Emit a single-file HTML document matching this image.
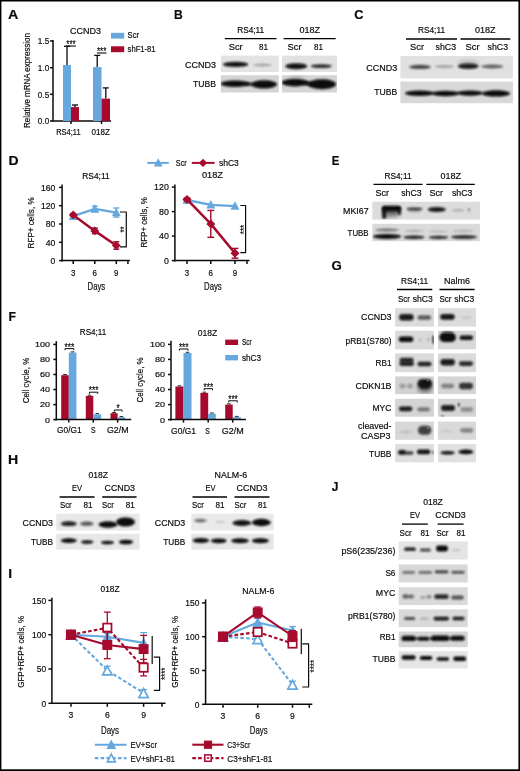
<!DOCTYPE html>
<html><head><meta charset="utf-8"><title>Figure</title>
<style>
html,body{margin:0;padding:0;background:#fff}
svg{display:block}
text{font-family:"Liberation Sans",sans-serif;fill:#0c0a0b;stroke:#0c0a0b;stroke-width:0.18px}
</style></head><body>
<svg width="520" height="771" viewBox="0 0 520 771">
<defs>
<filter id="b1" x="-30%" y="-80%" width="160%" height="260%"><feGaussianBlur stdDeviation="0.9"/></filter>
<filter id="b2" x="-30%" y="-80%" width="160%" height="260%"><feGaussianBlur stdDeviation="1.3"/></filter>
<filter id="b3" x="-40%" y="-80%" width="180%" height="260%"><feGaussianBlur stdDeviation="1.9"/></filter>
<filter id="b4" x="-50%" y="-80%" width="200%" height="260%"><feGaussianBlur stdDeviation="2.5"/></filter>
</defs>
<rect x="0" y="0" width="520" height="771" fill="#fff"/>
<text transform="translate(8.11 18.7) scale(1.103 1)" font-size="13" font-weight="bold" fill="#000" stroke="#000" stroke-width="0.5" stroke-linejoin="round">A</text>
<text transform="translate(174.01 18.7) scale(0.931 1)" font-size="13" font-weight="bold" fill="#000" stroke="#000" stroke-width="0.5" stroke-linejoin="round">B</text>
<text transform="translate(354.26 18.7) scale(0.982 1)" font-size="13" font-weight="bold" fill="#000" stroke="#000" stroke-width="0.5" stroke-linejoin="round">C</text>
<text transform="translate(8.39 164.6) scale(1.075 1)" font-size="13" font-weight="bold" fill="#000" stroke="#000" stroke-width="0.5" stroke-linejoin="round">D</text>
<text transform="translate(331.75 164.6) scale(0.877 1)" font-size="13" font-weight="bold" fill="#000" stroke="#000" stroke-width="0.5" stroke-linejoin="round">E</text>
<text transform="translate(8.60 321.2) scale(0.939 1)" font-size="13" font-weight="bold" fill="#000" stroke="#000" stroke-width="0.5" stroke-linejoin="round">F</text>
<text transform="translate(331.54 269.9) scale(1.017 1)" font-size="13" font-weight="bold" fill="#000" stroke="#000" stroke-width="0.5" stroke-linejoin="round">G</text>
<text transform="translate(8.08 464.0) scale(1.085 1)" font-size="13" font-weight="bold" fill="#000" stroke="#000" stroke-width="0.5" stroke-linejoin="round">H</text>
<text transform="translate(8.31 577.8) scale(1.053 1)" font-size="13" font-weight="bold" fill="#000" stroke="#000" stroke-width="0.5" stroke-linejoin="round">I</text>
<text transform="translate(331.71 490.6) scale(0.927 1)" font-size="13" font-weight="bold" fill="#000" stroke="#000" stroke-width="0.5" stroke-linejoin="round">J</text>
<text x="70.0" y="33.5" font-size="9" textLength="31.0" lengthAdjust="spacingAndGlyphs">CCND3</text>
<line x1="53.0" y1="40.0" x2="53.0" y2="121.6" stroke="#0c0a0b" stroke-width="1.5"/>
<line x1="52.4" y1="121.0" x2="111.0" y2="121.0" stroke="#0c0a0b" stroke-width="1.5"/>
<line x1="50.0" y1="121.0" x2="53.0" y2="121.0" stroke="#0c0a0b" stroke-width="1.5"/>
<text x="37.8" y="124.3" font-size="9.2" textLength="11.4" lengthAdjust="spacingAndGlyphs">0.0</text>
<line x1="50.0" y1="94.3" x2="53.0" y2="94.3" stroke="#0c0a0b" stroke-width="1.5"/>
<text x="37.8" y="97.6" font-size="9.2" textLength="11.4" lengthAdjust="spacingAndGlyphs">0.5</text>
<line x1="50.0" y1="67.7" x2="53.0" y2="67.7" stroke="#0c0a0b" stroke-width="1.5"/>
<text x="37.8" y="71.0" font-size="9.2" textLength="11.4" lengthAdjust="spacingAndGlyphs">1.0</text>
<line x1="50.0" y1="41.0" x2="53.0" y2="41.0" stroke="#0c0a0b" stroke-width="1.5"/>
<text x="37.8" y="44.3" font-size="9.2" textLength="11.4" lengthAdjust="spacingAndGlyphs">1.5</text>
<rect x="63.0" y="65.0" width="8.0" height="56.0" fill="#66a8de"/>
<line x1="67.0" y1="65.0" x2="67.0" y2="46.3" stroke="#0c0a0b" stroke-width="1.3"/>
<line x1="64.0" y1="46.3" x2="70.0" y2="46.3" stroke="#0c0a0b" stroke-width="1.3"/>
<rect x="71.0" y="107.1" width="8.0" height="13.9" fill="#a60a2c"/>
<line x1="75.0" y1="107.1" x2="75.0" y2="105.0" stroke="#0c0a0b" stroke-width="1.3"/>
<line x1="72.0" y1="105.0" x2="78.0" y2="105.0" stroke="#0c0a0b" stroke-width="1.3"/>
<rect x="93.0" y="67.1" width="8.5" height="53.9" fill="#66a8de"/>
<line x1="97.2" y1="67.1" x2="97.2" y2="55.4" stroke="#0c0a0b" stroke-width="1.3"/>
<line x1="94.2" y1="55.4" x2="100.2" y2="55.4" stroke="#0c0a0b" stroke-width="1.3"/>
<rect x="101.5" y="98.6" width="8.5" height="22.4" fill="#a60a2c"/>
<line x1="105.8" y1="98.6" x2="105.8" y2="87.9" stroke="#0c0a0b" stroke-width="1.3"/>
<line x1="102.8" y1="87.9" x2="108.8" y2="87.9" stroke="#0c0a0b" stroke-width="1.3"/>
<line x1="66.0" y1="46.0" x2="76.0" y2="46.0" stroke="#0c0a0b" stroke-width="1.1"/>
<text x="66.3" y="48.0" font-size="10" textLength="9.3" lengthAdjust="spacingAndGlyphs" stroke="#0c0a0b" stroke-width="0.8" stroke-linejoin="round">***</text>
<line x1="97.0" y1="53.0" x2="106.5" y2="53.0" stroke="#0c0a0b" stroke-width="1.1"/>
<text x="97.0" y="55.0" font-size="10" textLength="9.3" lengthAdjust="spacingAndGlyphs" stroke="#0c0a0b" stroke-width="0.8" stroke-linejoin="round">***</text>
<line x1="71.0" y1="121.0" x2="71.0" y2="124.0" stroke="#0c0a0b" stroke-width="1.5"/>
<line x1="101.5" y1="121.0" x2="101.5" y2="124.0" stroke="#0c0a0b" stroke-width="1.5"/>
<text x="56.2" y="135.3" font-size="9.5" textLength="24.4" lengthAdjust="spacingAndGlyphs" stroke="#0c0a0b" stroke-width="0.3">RS4;11</text>
<text x="91.6" y="135.3" font-size="9.5" textLength="18.4" lengthAdjust="spacingAndGlyphs" stroke="#0c0a0b" stroke-width="0.3">018Z</text>
<text transform="translate(26.6 80.5) rotate(-90)" x="-47.5" y="3.2" font-size="9.3" textLength="95.0" lengthAdjust="spacingAndGlyphs" stroke="#0c0a0b" stroke-width="0.3">Relative mRNA expression</text>
<rect x="111.0" y="32.8" width="13.2" height="5.8" fill="#66a8de"/>
<text x="127.6" y="38.3" font-size="8.5" textLength="11.4" lengthAdjust="spacingAndGlyphs">Scr</text>
<rect x="111.0" y="46.3" width="13.2" height="5.9" fill="#a60a2c"/>
<text x="127.6" y="52.0" font-size="8.5" textLength="28.0" lengthAdjust="spacingAndGlyphs">shF1-81</text>
<line x1="224.8" y1="38.6" x2="276.5" y2="38.6" stroke="#000" stroke-width="1.3"/>
<text x="237.2" y="33.0" font-size="9" textLength="27.0" lengthAdjust="spacingAndGlyphs">RS4;11</text>
<line x1="283.6" y1="38.6" x2="335.6" y2="38.6" stroke="#000" stroke-width="1.3"/>
<text x="299.4" y="33.0" font-size="9" textLength="20.5" lengthAdjust="spacingAndGlyphs">018Z</text>
<text x="228.7" y="50.0" font-size="9" textLength="14.0" lengthAdjust="spacingAndGlyphs">Scr</text>
<text x="259.0" y="50.0" font-size="9" textLength="9.0" lengthAdjust="spacingAndGlyphs">81</text>
<text x="287.5" y="50.0" font-size="9" textLength="14.0" lengthAdjust="spacingAndGlyphs">Scr</text>
<text x="314.0" y="50.0" font-size="9" textLength="9.0" lengthAdjust="spacingAndGlyphs">81</text>
<text x="185.0" y="67.5" font-size="9" textLength="31.0" lengthAdjust="spacingAndGlyphs">CCND3</text>
<text x="193.0" y="86.5" font-size="9" textLength="23.0" lengthAdjust="spacingAndGlyphs">TUBB</text>
<clipPath id="c1"><rect x="220.8" y="55.6" width="58.0" height="16.4"/></clipPath>
<rect x="220.8" y="55.6" width="58.0" height="16.4" fill="#e3e3e3"/>
<g clip-path="url(#c1)">
<ellipse cx="235.6" cy="64.4" rx="12.5" ry="2.7" fill="#0a0a0a" opacity="0.97" filter="url(#b1)"/>
<ellipse cx="262.5" cy="65.0" rx="9.5" ry="1.2" fill="#0a0a0a" opacity="0.35" filter="url(#b1)"/>
</g>
<clipPath id="c2"><rect x="282.0" y="55.6" width="55.0" height="16.4"/></clipPath>
<rect x="282.0" y="55.6" width="55.0" height="16.4" fill="#e1e1e1"/>
<g clip-path="url(#c2)">
<ellipse cx="296.3" cy="66.2" rx="11.0" ry="3.0" fill="#0a0a0a" opacity="0.97" filter="url(#b1)"/>
<ellipse cx="321.3" cy="66.2" rx="10.5" ry="1.9" fill="#0a0a0a" opacity="0.85" filter="url(#b1)"/>
</g>
<clipPath id="c3"><rect x="220.8" y="75.2" width="58.0" height="17.3"/></clipPath>
<rect x="220.8" y="75.2" width="58.0" height="17.3" fill="#d5d5d5"/>
<g clip-path="url(#c3)">
<ellipse cx="235.0" cy="83.8" rx="14.5" ry="3.2" fill="#0a0a0a" opacity="1" filter="url(#b1)"/>
<ellipse cx="264.0" cy="84.3" rx="13.0" ry="4.1" fill="#0a0a0a" opacity="1" filter="url(#b1)"/>
<ellipse cx="249.0" cy="84.0" rx="4.0" ry="1.5" fill="#0a0a0a" opacity="0.9" filter="url(#b1)"/>
</g>
<clipPath id="c4"><rect x="282.0" y="75.2" width="55.0" height="17.3"/></clipPath>
<rect x="282.0" y="75.2" width="55.0" height="17.3" fill="#d5d5d5"/>
<g clip-path="url(#c4)">
<ellipse cx="295.0" cy="82.6" rx="13.5" ry="3.8" fill="#0a0a0a" opacity="1" filter="url(#b1)"/>
<ellipse cx="322.0" cy="84.3" rx="14.0" ry="5.0" fill="#0a0a0a" opacity="1" filter="url(#b1)"/>
<ellipse cx="308.0" cy="83.5" rx="4.0" ry="2.0" fill="#0a0a0a" opacity="0.9" filter="url(#b1)"/>
<ellipse cx="297.0" cy="76.0" rx="9.0" ry="0.5" fill="#0a0a0a" opacity="0.3" filter="url(#b1)"/>
</g>
<line x1="406.0" y1="39.0" x2="457.0" y2="39.0" stroke="#000" stroke-width="1.3"/>
<text x="418.0" y="33.2" font-size="9" textLength="27.0" lengthAdjust="spacingAndGlyphs">RS4;11</text>
<line x1="460.5" y1="39.0" x2="510.3" y2="39.0" stroke="#000" stroke-width="1.3"/>
<text x="475.1" y="33.2" font-size="9" textLength="20.5" lengthAdjust="spacingAndGlyphs">018Z</text>
<text x="410.0" y="50.0" font-size="9" textLength="14.0" lengthAdjust="spacingAndGlyphs">Scr</text>
<text x="435.6" y="50.0" font-size="9" textLength="20.5" lengthAdjust="spacingAndGlyphs">shC3</text>
<text x="465.5" y="50.0" font-size="9" textLength="14.0" lengthAdjust="spacingAndGlyphs">Scr</text>
<text x="487.6" y="50.0" font-size="9" textLength="20.5" lengthAdjust="spacingAndGlyphs">shC3</text>
<text x="366.3" y="70.6" font-size="9" textLength="31.0" lengthAdjust="spacingAndGlyphs">CCND3</text>
<text x="374.3" y="95.4" font-size="9" textLength="23.0" lengthAdjust="spacingAndGlyphs">TUBB</text>
<clipPath id="c5"><rect x="400.4" y="56.0" width="112.5" height="22.4"/></clipPath>
<rect x="400.4" y="56.0" width="112.5" height="22.4" fill="#e1e1e1"/>
<g clip-path="url(#c5)">
<ellipse cx="420.0" cy="66.9" rx="11.0" ry="2.1" fill="#0a0a0a" opacity="0.72" filter="url(#b2)"/>
<ellipse cx="444.3" cy="66.6" rx="9.5" ry="1.4" fill="#0a0a0a" opacity="0.32" filter="url(#b2)"/>
<ellipse cx="468.3" cy="66.3" rx="10.5" ry="2.8" fill="#0a0a0a" opacity="0.9" filter="url(#b2)"/>
<ellipse cx="468.3" cy="63.5" rx="10.0" ry="2.5" fill="#0a0a0a" opacity="0.25" filter="url(#b3)"/>
<ellipse cx="492.3" cy="66.5" rx="11.0" ry="1.9" fill="#0a0a0a" opacity="0.6" filter="url(#b2)"/>
</g>
<clipPath id="c6"><rect x="400.4" y="81.5" width="112.5" height="21.7"/></clipPath>
<rect x="400.4" y="81.5" width="112.5" height="21.7" fill="#d8d8d8"/>
<g clip-path="url(#c6)">
<ellipse cx="419.5" cy="93.3" rx="14.5" ry="2.8" fill="#0a0a0a" opacity="1" filter="url(#b1)"/>
<ellipse cx="445.5" cy="93.5" rx="13.5" ry="2.7" fill="#0a0a0a" opacity="1" filter="url(#b1)"/>
<ellipse cx="470.0" cy="93.1" rx="13.0" ry="2.7" fill="#0a0a0a" opacity="1" filter="url(#b1)"/>
<ellipse cx="496.0" cy="93.4" rx="14.0" ry="3.2" fill="#0a0a0a" opacity="1" filter="url(#b1)"/>
</g>
<line x1="62.1" y1="184.4" x2="62.1" y2="261.4" stroke="#0c0a0b" stroke-width="1.5"/>
<line x1="61.4" y1="260.6" x2="129.8" y2="260.6" stroke="#0c0a0b" stroke-width="1.5"/>
<line x1="59.1" y1="260.6" x2="62.1" y2="260.6" stroke="#0c0a0b" stroke-width="1.5"/>
<text x="50.6" y="263.8" font-size="9" textLength="4.8" lengthAdjust="spacingAndGlyphs">0</text>
<line x1="59.1" y1="242.3" x2="62.1" y2="242.3" stroke="#0c0a0b" stroke-width="1.5"/>
<text x="45.8" y="245.5" font-size="9" textLength="9.6" lengthAdjust="spacingAndGlyphs">40</text>
<line x1="59.1" y1="224.0" x2="62.1" y2="224.0" stroke="#0c0a0b" stroke-width="1.5"/>
<text x="45.8" y="227.2" font-size="9" textLength="9.6" lengthAdjust="spacingAndGlyphs">80</text>
<line x1="59.1" y1="205.7" x2="62.1" y2="205.7" stroke="#0c0a0b" stroke-width="1.5"/>
<text x="41.0" y="208.9" font-size="9" textLength="14.4" lengthAdjust="spacingAndGlyphs">120</text>
<line x1="59.1" y1="187.4" x2="62.1" y2="187.4" stroke="#0c0a0b" stroke-width="1.5"/>
<text x="41.0" y="190.6" font-size="9" textLength="14.4" lengthAdjust="spacingAndGlyphs">160</text>
<line x1="73.2" y1="260.6" x2="73.2" y2="264.1" stroke="#0c0a0b" stroke-width="1.5"/>
<text x="71.0" y="276.0" font-size="9" textLength="4.4" lengthAdjust="spacingAndGlyphs" stroke="#0c0a0b" stroke-width="0.3">3</text>
<line x1="94.8" y1="260.6" x2="94.8" y2="264.1" stroke="#0c0a0b" stroke-width="1.5"/>
<text x="92.6" y="276.0" font-size="9" textLength="4.4" lengthAdjust="spacingAndGlyphs" stroke="#0c0a0b" stroke-width="0.3">6</text>
<line x1="116.3" y1="260.6" x2="116.3" y2="264.1" stroke="#0c0a0b" stroke-width="1.5"/>
<text x="114.1" y="276.0" font-size="9" textLength="4.4" lengthAdjust="spacingAndGlyphs" stroke="#0c0a0b" stroke-width="0.3">9</text>
<line x1="127.9" y1="260.6" x2="127.9" y2="264.1" stroke="#0c0a0b" stroke-width="1.5"/>
<text x="82.2" y="179.0" font-size="9" textLength="27.5" lengthAdjust="spacingAndGlyphs">RS4;11</text>
<text transform="translate(30.6 222.9) rotate(-90)" x="-25.5" y="3.2" font-size="9.3" textLength="51.0" lengthAdjust="spacingAndGlyphs" stroke="#0c0a0b" stroke-width="0.3">RFP+ cells, %</text>
<text x="87.6" y="290.3" font-size="10" textLength="17.6" lengthAdjust="spacingAndGlyphs" stroke="#0c0a0b" stroke-width="0.3">Days</text>
<polyline points="73.2,216.2 94.8,208.9 116.3,212.6" fill="none" stroke="#66a8de" stroke-width="2.3" stroke-linejoin="round"/>
<line x1="73.2" y1="213.9" x2="73.2" y2="218.5" stroke="#66a8de" stroke-width="1.4"/>
<line x1="70.2" y1="213.9" x2="76.2" y2="213.9" stroke="#66a8de" stroke-width="1.4"/>
<line x1="70.2" y1="218.5" x2="76.2" y2="218.5" stroke="#66a8de" stroke-width="1.4"/>
<polygon points="73.2,211.4 68.7,220.0 77.7,220.0" fill="#66a8de"/>
<line x1="94.8" y1="206.2" x2="94.8" y2="211.6" stroke="#66a8de" stroke-width="1.4"/>
<line x1="91.8" y1="206.2" x2="97.8" y2="206.2" stroke="#66a8de" stroke-width="1.4"/>
<line x1="91.8" y1="211.6" x2="97.8" y2="211.6" stroke="#66a8de" stroke-width="1.4"/>
<polygon points="94.8,204.1 90.3,212.7 99.3,212.7" fill="#66a8de"/>
<line x1="116.3" y1="208.0" x2="116.3" y2="217.1" stroke="#66a8de" stroke-width="1.4"/>
<line x1="113.3" y1="208.0" x2="119.3" y2="208.0" stroke="#66a8de" stroke-width="1.4"/>
<line x1="113.3" y1="217.1" x2="119.3" y2="217.1" stroke="#66a8de" stroke-width="1.4"/>
<polygon points="116.3,207.8 111.8,216.3 120.8,216.3" fill="#66a8de"/>
<polyline points="73.2,214.9 94.8,230.9 116.3,245.5" fill="none" stroke="#a60a2c" stroke-width="2.5" stroke-linejoin="round"/>
<line x1="73.2" y1="213.5" x2="73.2" y2="216.2" stroke="#a60a2c" stroke-width="1.4"/>
<line x1="70.2" y1="213.5" x2="76.2" y2="213.5" stroke="#a60a2c" stroke-width="1.4"/>
<line x1="70.2" y1="216.2" x2="76.2" y2="216.2" stroke="#a60a2c" stroke-width="1.4"/>
<polygon points="73.2,210.5 77.6,214.9 73.2,219.3 68.8,214.9" fill="#a60a2c"/>
<line x1="94.8" y1="228.1" x2="94.8" y2="233.6" stroke="#a60a2c" stroke-width="1.4"/>
<line x1="91.8" y1="228.1" x2="97.8" y2="228.1" stroke="#a60a2c" stroke-width="1.4"/>
<line x1="91.8" y1="233.6" x2="97.8" y2="233.6" stroke="#a60a2c" stroke-width="1.4"/>
<polygon points="94.8,226.5 99.2,230.9 94.8,235.3 90.4,230.9" fill="#a60a2c"/>
<line x1="116.3" y1="241.8" x2="116.3" y2="249.2" stroke="#a60a2c" stroke-width="1.4"/>
<line x1="113.3" y1="241.8" x2="119.3" y2="241.8" stroke="#a60a2c" stroke-width="1.4"/>
<line x1="113.3" y1="249.2" x2="119.3" y2="249.2" stroke="#a60a2c" stroke-width="1.4"/>
<polygon points="116.3,241.1 120.7,245.5 116.3,249.9 111.9,245.5" fill="#a60a2c"/>
<polyline points="120.0,212.0 126.3,212.0 126.3,246.9 120.0,246.9" fill="none" stroke="#0c0a0b" stroke-width="1.2" stroke-linejoin="round"/>
<text transform="translate(122.6 229.5) rotate(-90)" x="-3.1" y="5.5" font-size="10.5" textLength="6.2" lengthAdjust="spacingAndGlyphs" stroke="#0c0a0b" stroke-width="0.8" stroke-linejoin="round">**</text>
<line x1="174.9" y1="184.4" x2="174.9" y2="261.4" stroke="#0c0a0b" stroke-width="1.5"/>
<line x1="174.2" y1="260.6" x2="249.5" y2="260.6" stroke="#0c0a0b" stroke-width="1.5"/>
<line x1="171.9" y1="260.6" x2="174.9" y2="260.6" stroke="#0c0a0b" stroke-width="1.5"/>
<text x="163.9" y="263.8" font-size="9" textLength="4.9" lengthAdjust="spacingAndGlyphs">0</text>
<line x1="171.9" y1="236.1" x2="174.9" y2="236.1" stroke="#0c0a0b" stroke-width="1.5"/>
<text x="159.0" y="239.3" font-size="9" textLength="9.8" lengthAdjust="spacingAndGlyphs">40</text>
<line x1="171.9" y1="211.6" x2="174.9" y2="211.6" stroke="#0c0a0b" stroke-width="1.5"/>
<text x="159.0" y="214.8" font-size="9" textLength="9.8" lengthAdjust="spacingAndGlyphs">80</text>
<line x1="171.9" y1="187.1" x2="174.9" y2="187.1" stroke="#0c0a0b" stroke-width="1.5"/>
<text x="154.1" y="190.3" font-size="9" textLength="14.7" lengthAdjust="spacingAndGlyphs">120</text>
<line x1="187.0" y1="260.6" x2="187.0" y2="264.1" stroke="#0c0a0b" stroke-width="1.5"/>
<text x="184.8" y="276.0" font-size="9" textLength="4.4" lengthAdjust="spacingAndGlyphs" stroke="#0c0a0b" stroke-width="0.3">3</text>
<line x1="210.8" y1="260.6" x2="210.8" y2="264.1" stroke="#0c0a0b" stroke-width="1.5"/>
<text x="208.6" y="276.0" font-size="9" textLength="4.4" lengthAdjust="spacingAndGlyphs" stroke="#0c0a0b" stroke-width="0.3">6</text>
<line x1="235.0" y1="260.6" x2="235.0" y2="264.1" stroke="#0c0a0b" stroke-width="1.5"/>
<text x="232.8" y="276.0" font-size="9" textLength="4.4" lengthAdjust="spacingAndGlyphs" stroke="#0c0a0b" stroke-width="0.3">9</text>
<line x1="247.0" y1="260.6" x2="247.0" y2="264.1" stroke="#0c0a0b" stroke-width="1.5"/>
<text x="202.0" y="178.0" font-size="9" textLength="21.0" lengthAdjust="spacingAndGlyphs">018Z</text>
<text transform="translate(143.4 222.4) rotate(-90)" x="-25.2" y="3.2" font-size="9.3" textLength="50.5" lengthAdjust="spacingAndGlyphs" stroke="#0c0a0b" stroke-width="0.3">RFP+ cells, %</text>
<text x="204.1" y="290.3" font-size="10" textLength="17.6" lengthAdjust="spacingAndGlyphs" stroke="#0c0a0b" stroke-width="0.3">Days</text>
<polyline points="187.0,200.0 210.8,204.9 235.0,206.1" fill="none" stroke="#66a8de" stroke-width="2.3" stroke-linejoin="round"/>
<polygon points="187.0,195.2 182.5,203.7 191.5,203.7" fill="#66a8de"/>
<polygon points="210.8,200.1 206.3,208.6 215.3,208.6" fill="#66a8de"/>
<polygon points="235.0,201.3 230.5,209.8 239.5,209.8" fill="#66a8de"/>
<polyline points="187.0,199.4 210.8,223.9 235.0,253.3" fill="none" stroke="#a60a2c" stroke-width="2.5" stroke-linejoin="round"/>
<line x1="187.0" y1="198.1" x2="187.0" y2="200.6" stroke="#a60a2c" stroke-width="1.4"/>
<line x1="183.6" y1="198.1" x2="190.4" y2="198.1" stroke="#a60a2c" stroke-width="1.4"/>
<line x1="183.6" y1="200.6" x2="190.4" y2="200.6" stroke="#a60a2c" stroke-width="1.4"/>
<polygon points="187.0,194.9 191.5,199.4 187.0,203.9 182.5,199.4" fill="#a60a2c"/>
<line x1="210.8" y1="210.4" x2="210.8" y2="237.3" stroke="#a60a2c" stroke-width="1.4"/>
<line x1="207.4" y1="210.4" x2="214.2" y2="210.4" stroke="#a60a2c" stroke-width="1.4"/>
<line x1="207.4" y1="237.3" x2="214.2" y2="237.3" stroke="#a60a2c" stroke-width="1.4"/>
<polygon points="210.8,219.4 215.3,223.9 210.8,228.4 206.3,223.9" fill="#a60a2c"/>
<line x1="235.0" y1="248.4" x2="235.0" y2="258.2" stroke="#a60a2c" stroke-width="1.4"/>
<line x1="231.6" y1="248.4" x2="238.4" y2="248.4" stroke="#a60a2c" stroke-width="1.4"/>
<line x1="231.6" y1="258.2" x2="238.4" y2="258.2" stroke="#a60a2c" stroke-width="1.4"/>
<polygon points="235.0,248.8 239.5,253.3 235.0,257.8 230.5,253.3" fill="#a60a2c"/>
<polyline points="240.3,205.5 245.6,205.5 245.6,252.6 240.3,252.6" fill="none" stroke="#0c0a0b" stroke-width="1.2" stroke-linejoin="round"/>
<text transform="translate(242.2 229.5) rotate(-90)" x="-4.7" y="5.5" font-size="10.5" textLength="9.3" lengthAdjust="spacingAndGlyphs" stroke="#0c0a0b" stroke-width="0.8" stroke-linejoin="round">***</text>
<line x1="147.2" y1="162.9" x2="168.8" y2="162.9" stroke="#66a8de" stroke-width="2"/>
<polygon points="158.2,158.2 153.8,166.6 162.6,166.6" fill="#66a8de"/>
<text x="175.8" y="166.0" font-size="9" textLength="11.0" lengthAdjust="spacingAndGlyphs" stroke="#0c0a0b" stroke-width="0.3">Scr</text>
<line x1="191.8" y1="162.9" x2="214.6" y2="162.9" stroke="#a60a2c" stroke-width="2"/>
<polygon points="203.0,158.7 207.2,162.9 203.0,167.1 198.8,162.9" fill="#a60a2c"/>
<text x="218.9" y="166.0" font-size="9" textLength="20.0" lengthAdjust="spacingAndGlyphs">shC3</text>
<line x1="373.5" y1="184.3" x2="422.5" y2="184.3" stroke="#000" stroke-width="1.3"/>
<text x="384.5" y="178.8" font-size="9" textLength="27.0" lengthAdjust="spacingAndGlyphs">RS4;11</text>
<line x1="426.4" y1="184.3" x2="474.8" y2="184.3" stroke="#000" stroke-width="1.3"/>
<text x="440.4" y="178.8" font-size="9" textLength="20.5" lengthAdjust="spacingAndGlyphs">018Z</text>
<text x="375.6" y="196.2" font-size="9" textLength="13.5" lengthAdjust="spacingAndGlyphs">Scr</text>
<text x="401.2" y="196.2" font-size="9" textLength="20.5" lengthAdjust="spacingAndGlyphs">shC3</text>
<text x="429.4" y="196.2" font-size="9" textLength="13.5" lengthAdjust="spacingAndGlyphs">Scr</text>
<text x="451.9" y="196.2" font-size="9" textLength="20.5" lengthAdjust="spacingAndGlyphs">shC3</text>
<text x="343.1" y="213.7" font-size="9" textLength="25.5" lengthAdjust="spacingAndGlyphs">MKI67</text>
<text x="347.6" y="235.6" font-size="9" textLength="21.0" lengthAdjust="spacingAndGlyphs" stroke="#0c0a0b" stroke-width="0.3">TUBB</text>
<clipPath id="c7"><rect x="372.3" y="201.7" width="107.6" height="17.9"/></clipPath>
<rect x="372.3" y="201.7" width="107.6" height="17.9" fill="#dcdcdc"/>
<g clip-path="url(#c7)">
<rect x="382.0" y="205.8" width="19.0" height="5.6" rx="2.8" fill="#0a0a0a" opacity="1" filter="url(#b1)"/>
<rect x="382.0" y="207.0" width="4.4" height="12.0" rx="2.2" fill="#0a0a0a" opacity="0.9" filter="url(#b2)"/>
<rect x="397.6" y="207.0" width="3.4" height="8.0" rx="1.7" fill="#0a0a0a" opacity="0.85" filter="url(#b2)"/>
<rect x="384.0" y="208.5" width="15.0" height="8.0" rx="4.0" fill="#0a0a0a" opacity="0.55" filter="url(#b3)"/>
<ellipse cx="414.5" cy="209.0" rx="8.0" ry="1.6" fill="#0a0a0a" opacity="0.8" filter="url(#b1)"/>
<ellipse cx="414.5" cy="211.5" rx="7.0" ry="1.5" fill="#0a0a0a" opacity="0.15" filter="url(#b2)"/>
<ellipse cx="436.8" cy="209.4" rx="9.0" ry="2.5" fill="#0a0a0a" opacity="0.95" filter="url(#b1)"/>
<ellipse cx="458.0" cy="210.3" rx="6.0" ry="1.0" fill="#0a0a0a" opacity="0.25" filter="url(#b2)"/>
<ellipse cx="469.0" cy="209.8" rx="1.2" ry="1.2" fill="#0a0a0a" opacity="0.55" filter="url(#b1)"/>
</g>
<clipPath id="c8"><rect x="372.3" y="223.8" width="107.6" height="17.4"/></clipPath>
<rect x="372.3" y="223.8" width="107.6" height="17.4" fill="#dadada"/>
<g clip-path="url(#c8)">
<ellipse cx="387.0" cy="230.0" rx="12.0" ry="1.5" fill="#0a0a0a" opacity="0.5" filter="url(#b2)"/>
<ellipse cx="414.0" cy="231.0" rx="10.0" ry="1.2" fill="#0a0a0a" opacity="0.22" filter="url(#b2)"/>
<ellipse cx="438.0" cy="231.5" rx="10.0" ry="1.2" fill="#0a0a0a" opacity="0.15" filter="url(#b2)"/>
<ellipse cx="463.0" cy="231.0" rx="11.0" ry="1.2" fill="#0a0a0a" opacity="0.2" filter="url(#b2)"/>
<ellipse cx="387.0" cy="236.5" rx="14.0" ry="2.4" fill="#0a0a0a" opacity="1" filter="url(#b1)"/>
<ellipse cx="414.0" cy="237.3" rx="10.5" ry="1.7" fill="#0a0a0a" opacity="0.92" filter="url(#b1)"/>
<ellipse cx="438.5" cy="237.3" rx="10.0" ry="1.6" fill="#0a0a0a" opacity="0.88" filter="url(#b1)"/>
<ellipse cx="464.0" cy="237.0" rx="13.0" ry="1.8" fill="#0a0a0a" opacity="0.92" filter="url(#b1)"/>
</g>
<line x1="397.0" y1="289.5" x2="432.3" y2="289.5" stroke="#000" stroke-width="1.3"/>
<text x="401.1" y="284.4" font-size="9" textLength="27.0" lengthAdjust="spacingAndGlyphs">RS4;11</text>
<line x1="439.5" y1="289.5" x2="474.6" y2="289.5" stroke="#000" stroke-width="1.3"/>
<text x="444.1" y="284.4" font-size="9" textLength="26.0" lengthAdjust="spacingAndGlyphs">Nalm6</text>
<text x="398.0" y="302.4" font-size="9" textLength="12.0" lengthAdjust="spacingAndGlyphs">Scr</text>
<text x="412.8" y="302.4" font-size="9" textLength="20.0" lengthAdjust="spacingAndGlyphs">shC3</text>
<text x="439.5" y="302.4" font-size="9" textLength="12.0" lengthAdjust="spacingAndGlyphs">Scr</text>
<text x="454.3" y="302.4" font-size="9" textLength="20.0" lengthAdjust="spacingAndGlyphs">shC3</text>
<text x="361.0" y="320.4" font-size="9" textLength="30.5" lengthAdjust="spacingAndGlyphs">CCND3</text>
<text x="345.5" y="343.6" font-size="9" textLength="46.0" lengthAdjust="spacingAndGlyphs">pRB1(S780)</text>
<text x="375.5" y="365.5" font-size="9" textLength="16.0" lengthAdjust="spacingAndGlyphs">RB1</text>
<text x="355.5" y="388.5" font-size="9" textLength="36.0" lengthAdjust="spacingAndGlyphs">CDKN1B</text>
<text x="372.5" y="410.8" font-size="9" textLength="19.0" lengthAdjust="spacingAndGlyphs">MYC</text>
<text x="358.0" y="428.7" font-size="9" textLength="33.5" lengthAdjust="spacingAndGlyphs">cleaved-</text>
<text x="361.0" y="438.5" font-size="9" textLength="29.5" lengthAdjust="spacingAndGlyphs">CASP3</text>
<text x="369.0" y="456.5" font-size="9" textLength="22.5" lengthAdjust="spacingAndGlyphs">TUBB</text>
<clipPath id="c9"><rect x="395.1" y="308.2" width="38.8" height="18.4"/></clipPath>
<rect x="395.1" y="308.2" width="38.8" height="18.4" fill="#dbdbdb"/>
<g clip-path="url(#c9)">
<rect x="399.1" y="314.1" width="14.5" height="6.4" rx="3.2" fill="#0a0a0a" opacity="0.93" filter="url(#b2)"/>
<rect x="417.6" y="315.2" width="13.5" height="4.6" rx="2.3" fill="#0a0a0a" opacity="0.62" filter="url(#b2)"/>
</g>
<clipPath id="c10"><rect x="437.9" y="308.2" width="38.1" height="18.4"/></clipPath>
<rect x="437.9" y="308.2" width="38.1" height="18.4" fill="#dcdcdc"/>
<g clip-path="url(#c10)">
<rect x="440.2" y="313.9" width="14.5" height="5.8" rx="2.9" fill="#0a0a0a" opacity="0.95" filter="url(#b2)"/>
<ellipse cx="466.0" cy="317.6" rx="5.5" ry="1.1" fill="#0a0a0a" opacity="0.12" filter="url(#b2)"/>
</g>
<clipPath id="c11"><rect x="395.1" y="330.7" width="38.8" height="18.7"/></clipPath>
<rect x="395.1" y="330.7" width="38.8" height="18.7" fill="#dadada"/>
<g clip-path="url(#c11)">
<rect x="398.8" y="336.5" width="14.5" height="5.6" rx="2.8" fill="#0a0a0a" opacity="1" filter="url(#b1)"/>
<ellipse cx="420.3" cy="340.0" rx="1.5" ry="1.5" fill="#0a0a0a" opacity="0.2" filter="url(#b2)"/>
<ellipse cx="428.4" cy="339.5" rx="1.5" ry="1.5" fill="#0a0a0a" opacity="0.22" filter="url(#b2)"/>
<rect x="432.5" y="335.4" width="2.2" height="8.5" rx="1.1" fill="#0a0a0a" opacity="0.85" filter="url(#b1)"/>
</g>
<clipPath id="c12"><rect x="437.9" y="330.7" width="38.1" height="18.7"/></clipPath>
<rect x="437.9" y="330.7" width="38.1" height="18.7" fill="#d8d8d8"/>
<g clip-path="url(#c12)">
<rect x="439.4" y="332.5" width="16.5" height="9.6" rx="4.8" fill="#0a0a0a" opacity="1" filter="url(#b1)"/>
<ellipse cx="447.5" cy="331.3" rx="6.0" ry="0.7" fill="#0a0a0a" opacity="0.7" filter="url(#b1)"/>
<rect x="459.6" y="335.5" width="13.5" height="4.6" rx="2.3" fill="#0a0a0a" opacity="0.97" filter="url(#b1)"/>
</g>
<clipPath id="c13"><rect x="395.1" y="353.4" width="38.8" height="18.8"/></clipPath>
<rect x="395.1" y="353.4" width="38.8" height="18.8" fill="#dadada"/>
<g clip-path="url(#c13)">
<rect x="399.6" y="357.7" width="14.0" height="4.2" rx="2.1" fill="#0a0a0a" opacity="0.8" filter="url(#b2)"/>
<rect x="399.4" y="361.7" width="14.5" height="4.2" rx="2.1" fill="#0a0a0a" opacity="0.88" filter="url(#b2)"/>
<rect x="400.1" y="359.8" width="13.0" height="4.0" rx="2.0" fill="#0a0a0a" opacity="0.5" filter="url(#b2)"/>
<rect x="417.5" y="361.7" width="14.0" height="4.6" rx="2.3" fill="#0a0a0a" opacity="0.9" filter="url(#b2)"/>
</g>
<clipPath id="c14"><rect x="437.9" y="353.4" width="38.1" height="18.8"/></clipPath>
<rect x="437.9" y="353.4" width="38.1" height="18.8" fill="#dadada"/>
<g clip-path="url(#c14)">
<rect x="440.4" y="359.0" width="14.5" height="6.4" rx="3.2" fill="#0a0a0a" opacity="0.92" filter="url(#b2)"/>
<rect x="459.0" y="361.3" width="14.0" height="4.6" rx="2.3" fill="#0a0a0a" opacity="0.85" filter="url(#b2)"/>
</g>
<clipPath id="c15"><rect x="395.1" y="376.4" width="38.8" height="17.7"/></clipPath>
<rect x="395.1" y="376.4" width="38.8" height="17.7" fill="#d3d3d3"/>
<g clip-path="url(#c15)">
<ellipse cx="402.5" cy="386.0" rx="3.0" ry="2.5" fill="#0a0a0a" opacity="0.28" filter="url(#b2)"/>
<ellipse cx="410.0" cy="386.0" rx="3.0" ry="2.5" fill="#0a0a0a" opacity="0.28" filter="url(#b2)"/>
<rect x="417.6" y="378.9" width="14.5" height="9.5" rx="4.8" fill="#0a0a0a" opacity="0.95" filter="url(#b2)"/>
<rect x="417.9" y="383.0" width="14.0" height="9.0" rx="4.5" fill="#0a0a0a" opacity="0.6" filter="url(#b3)"/>
<circle cx="427.6" cy="380.6" r="0.8" fill="#ccc" opacity="0.6"/>
</g>
<clipPath id="c16"><rect x="437.9" y="376.4" width="38.1" height="17.7"/></clipPath>
<rect x="437.9" y="376.4" width="38.1" height="17.7" fill="#d5d5d5"/>
<g clip-path="url(#c16)">
<rect x="441.1" y="383.7" width="13.0" height="4.6" rx="2.3" fill="#0a0a0a" opacity="0.42" filter="url(#b2)"/>
<rect x="459.0" y="382.8" width="14.0" height="6.4" rx="3.2" fill="#0a0a0a" opacity="0.8" filter="url(#b2)"/>
</g>
<clipPath id="c17"><rect x="395.1" y="398.8" width="38.8" height="17.9"/></clipPath>
<rect x="395.1" y="398.8" width="38.8" height="17.9" fill="#d4d4d4"/>
<g clip-path="url(#c17)">
<rect x="398.9" y="406.4" width="13.5" height="4.8" rx="2.4" fill="#0a0a0a" opacity="0.93" filter="url(#b2)"/>
<rect x="417.4" y="407.4" width="12.5" height="3.8" rx="1.9" fill="#0a0a0a" opacity="0.5" filter="url(#b2)"/>
</g>
<clipPath id="c18"><rect x="437.9" y="398.8" width="38.1" height="17.9"/></clipPath>
<rect x="437.9" y="398.8" width="38.1" height="17.9" fill="#d4d4d4"/>
<g clip-path="url(#c18)">
<rect x="441.0" y="405.0" width="14.0" height="6.0" rx="3.0" fill="#0a0a0a" opacity="0.9" filter="url(#b2)"/>
<rect x="460.6" y="407.3" width="12.5" height="4.4" rx="2.2" fill="#0a0a0a" opacity="0.36" filter="url(#b2)"/>
<ellipse cx="458.7" cy="404.8" rx="1.0" ry="1.7" fill="#0a0a0a" opacity="0.95" filter="url(#b1)"/>
<ellipse cx="442.6" cy="416.3" rx="1.3" ry="0.9" fill="#0a0a0a" opacity="0.9" filter="url(#b1)"/>
</g>
<clipPath id="c19"><rect x="395.1" y="421.6" width="38.8" height="18.2"/></clipPath>
<rect x="395.1" y="421.6" width="38.8" height="18.2" fill="#d7d7d7"/>
<g clip-path="url(#c19)">
<ellipse cx="406.0" cy="432.0" rx="6.0" ry="1.5" fill="#0a0a0a" opacity="0.12" filter="url(#b2)"/>
<rect x="417.9" y="425.8" width="13.5" height="9.0" rx="4.5" fill="#0a0a0a" opacity="0.75" filter="url(#b2)"/>
<circle cx="427.6" cy="428.2" r="0.8" fill="#ddd" opacity="0.6"/>
</g>
<clipPath id="c20"><rect x="437.9" y="421.6" width="38.1" height="18.2"/></clipPath>
<rect x="437.9" y="421.6" width="38.1" height="18.2" fill="#d9d9d9"/>
<g clip-path="url(#c20)">
<ellipse cx="446.0" cy="431.0" rx="5.5" ry="1.5" fill="#0a0a0a" opacity="0.08" filter="url(#b2)"/>
<rect x="460.3" y="427.9" width="13.0" height="4.8" rx="2.4" fill="#0a0a0a" opacity="0.4" filter="url(#b2)"/>
</g>
<clipPath id="c21"><rect x="395.1" y="444.0" width="38.8" height="18.3"/></clipPath>
<rect x="395.1" y="444.0" width="38.8" height="18.3" fill="#dfdfdf"/>
<g clip-path="url(#c21)">
<rect x="398.0" y="450.0" width="8.0" height="4.8" rx="2.4" fill="#0a0a0a" opacity="0.97" filter="url(#b2)"/>
<rect x="404.5" y="451.2" width="9.0" height="3.6" rx="1.8" fill="#0a0a0a" opacity="0.75" filter="url(#b2)"/>
<rect x="416.9" y="449.5" width="13.5" height="4.8" rx="2.4" fill="#0a0a0a" opacity="0.96" filter="url(#b2)"/>
<ellipse cx="433.2" cy="452.3" rx="0.8" ry="1.7" fill="#0a0a0a" opacity="0.85" filter="url(#b1)"/>
</g>
<clipPath id="c22"><rect x="437.9" y="444.0" width="38.1" height="18.3"/></clipPath>
<rect x="437.9" y="444.0" width="38.1" height="18.3" fill="#e0e0e0"/>
<g clip-path="url(#c22)">
<ellipse cx="447.6" cy="452.7" rx="7.2" ry="1.7" fill="#0a0a0a" opacity="1" filter="url(#b1)"/>
<ellipse cx="465.9" cy="451.9" rx="7.5" ry="2.3" fill="#0a0a0a" opacity="1" filter="url(#b1)"/>
</g>
<rect x="61.2" y="375.2" width="7.6" height="44.4" fill="#a60a2c"/>
<line x1="63.2" y1="374.5" x2="66.8" y2="374.5" stroke="#0c0a0b" stroke-width="0.9"/>
<rect x="68.8" y="352.6" width="7.6" height="67.0" fill="#66a8de"/>
<line x1="70.8" y1="351.9" x2="74.4" y2="351.9" stroke="#0c0a0b" stroke-width="0.9"/>
<rect x="85.8" y="395.9" width="7.5" height="23.7" fill="#a60a2c"/>
<line x1="87.8" y1="395.2" x2="91.3" y2="395.2" stroke="#0c0a0b" stroke-width="0.9"/>
<rect x="93.3" y="414.3" width="7.9" height="5.3" fill="#66a8de"/>
<line x1="95.5" y1="413.6" x2="99.0" y2="413.6" stroke="#0c0a0b" stroke-width="0.9"/>
<rect x="110.5" y="413.2" width="7.1" height="6.4" fill="#a60a2c"/>
<line x1="112.2" y1="412.5" x2="115.8" y2="412.5" stroke="#0c0a0b" stroke-width="0.9"/>
<rect x="117.6" y="417.3" width="7.6" height="2.3" fill="#66a8de"/>
<line x1="119.6" y1="416.6" x2="123.2" y2="416.6" stroke="#0c0a0b" stroke-width="0.9"/>
<line x1="56.3" y1="341.2" x2="56.3" y2="420.4" stroke="#0c0a0b" stroke-width="1.5"/>
<line x1="55.5" y1="419.6" x2="131.2" y2="419.6" stroke="#0c0a0b" stroke-width="1.5"/>
<line x1="53.3" y1="419.6" x2="56.3" y2="419.6" stroke="#0c0a0b" stroke-width="1.5"/>
<text x="44.9" y="422.5" font-size="8" textLength="5.0" lengthAdjust="spacingAndGlyphs">0</text>
<line x1="53.3" y1="404.6" x2="56.3" y2="404.6" stroke="#0c0a0b" stroke-width="1.5"/>
<text x="39.9" y="407.4" font-size="8" textLength="10.0" lengthAdjust="spacingAndGlyphs">20</text>
<line x1="53.3" y1="389.5" x2="56.3" y2="389.5" stroke="#0c0a0b" stroke-width="1.5"/>
<text x="39.9" y="392.4" font-size="8" textLength="10.0" lengthAdjust="spacingAndGlyphs">40</text>
<line x1="53.3" y1="374.5" x2="56.3" y2="374.5" stroke="#0c0a0b" stroke-width="1.5"/>
<text x="39.9" y="377.4" font-size="8" textLength="10.0" lengthAdjust="spacingAndGlyphs">60</text>
<line x1="53.3" y1="359.4" x2="56.3" y2="359.4" stroke="#0c0a0b" stroke-width="1.5"/>
<text x="39.9" y="362.3" font-size="8" textLength="10.0" lengthAdjust="spacingAndGlyphs">80</text>
<line x1="53.3" y1="344.4" x2="56.3" y2="344.4" stroke="#0c0a0b" stroke-width="1.5"/>
<text x="34.9" y="347.2" font-size="8" textLength="15.0" lengthAdjust="spacingAndGlyphs">100</text>
<text x="79.8" y="335.4" font-size="9" textLength="26.5" lengthAdjust="spacingAndGlyphs">RS4;11</text>
<polyline points="65.0,350.2 65.0,348.6 73.8,348.6 73.8,350.2" fill="none" stroke="#0c0a0b" stroke-width="1" stroke-linejoin="round"/>
<text x="64.6" y="350.6" font-size="10" textLength="9.6" lengthAdjust="spacingAndGlyphs" stroke="#0c0a0b" stroke-width="0.8" stroke-linejoin="round">***</text>
<polyline points="89.4,393.8 89.4,392.2 97.8,392.2 97.8,393.8" fill="none" stroke="#0c0a0b" stroke-width="1" stroke-linejoin="round"/>
<text x="88.8" y="394.2" font-size="10" textLength="9.6" lengthAdjust="spacingAndGlyphs" stroke="#0c0a0b" stroke-width="0.8" stroke-linejoin="round">***</text>
<polyline points="114.3,411.6 114.3,410.0 122.0,410.0 122.0,411.6" fill="none" stroke="#0c0a0b" stroke-width="1" stroke-linejoin="round"/>
<text x="116.6" y="412.0" font-size="10" textLength="3.2" lengthAdjust="spacingAndGlyphs" stroke="#0c0a0b" stroke-width="0.8" stroke-linejoin="round">*</text>
<text x="57.0" y="433.0" font-size="8.4" textLength="24.6" lengthAdjust="spacingAndGlyphs">G0/G1</text>
<text x="90.9" y="433.0" font-size="8.4" textLength="4.6" lengthAdjust="spacingAndGlyphs" stroke="#0c0a0b" stroke-width="0.3">S</text>
<text x="107.0" y="433.0" font-size="8.4" textLength="21.6" lengthAdjust="spacingAndGlyphs">G2/M</text>
<line x1="68.8" y1="419.6" x2="68.8" y2="422.6" stroke="#0c0a0b" stroke-width="1.5"/>
<line x1="93.3" y1="419.6" x2="93.3" y2="422.6" stroke="#0c0a0b" stroke-width="1.5"/>
<line x1="117.6" y1="419.6" x2="117.6" y2="422.6" stroke="#0c0a0b" stroke-width="1.5"/>
<text transform="translate(25.8 380.5) rotate(-90)" x="-22.8" y="2.9" font-size="8.4" textLength="45.5" lengthAdjust="spacingAndGlyphs">Cell cycle, %</text>
<rect x="175.4" y="386.5" width="8.1" height="33.1" fill="#a60a2c"/>
<line x1="177.6" y1="385.8" x2="181.2" y2="385.8" stroke="#0c0a0b" stroke-width="0.9"/>
<rect x="183.5" y="353.0" width="8.0" height="66.6" fill="#66a8de"/>
<line x1="185.7" y1="352.3" x2="189.3" y2="352.3" stroke="#0c0a0b" stroke-width="0.9"/>
<rect x="200.4" y="392.9" width="7.8" height="26.7" fill="#a60a2c"/>
<line x1="202.5" y1="392.2" x2="206.1" y2="392.2" stroke="#0c0a0b" stroke-width="0.9"/>
<rect x="208.2" y="413.7" width="7.6" height="5.9" fill="#66a8de"/>
<line x1="210.2" y1="413.0" x2="213.8" y2="413.0" stroke="#0c0a0b" stroke-width="0.9"/>
<rect x="225.2" y="404.6" width="7.5" height="15.1" fill="#a60a2c"/>
<line x1="227.1" y1="403.9" x2="230.8" y2="403.9" stroke="#0c0a0b" stroke-width="0.9"/>
<rect x="232.7" y="417.1" width="8.1" height="2.5" fill="#66a8de"/>
<line x1="234.9" y1="416.4" x2="238.6" y2="416.4" stroke="#0c0a0b" stroke-width="0.9"/>
<line x1="171.0" y1="340.8" x2="171.0" y2="420.4" stroke="#0c0a0b" stroke-width="1.5"/>
<line x1="170.2" y1="419.6" x2="246.0" y2="419.6" stroke="#0c0a0b" stroke-width="1.5"/>
<line x1="168.0" y1="419.6" x2="171.0" y2="419.6" stroke="#0c0a0b" stroke-width="1.5"/>
<text x="159.9" y="422.5" font-size="8" textLength="5.0" lengthAdjust="spacingAndGlyphs">0</text>
<line x1="168.0" y1="404.6" x2="171.0" y2="404.6" stroke="#0c0a0b" stroke-width="1.5"/>
<text x="154.9" y="407.4" font-size="8" textLength="10.0" lengthAdjust="spacingAndGlyphs">20</text>
<line x1="168.0" y1="389.5" x2="171.0" y2="389.5" stroke="#0c0a0b" stroke-width="1.5"/>
<text x="154.9" y="392.4" font-size="8" textLength="10.0" lengthAdjust="spacingAndGlyphs">40</text>
<line x1="168.0" y1="374.5" x2="171.0" y2="374.5" stroke="#0c0a0b" stroke-width="1.5"/>
<text x="154.9" y="377.4" font-size="8" textLength="10.0" lengthAdjust="spacingAndGlyphs">60</text>
<line x1="168.0" y1="359.4" x2="171.0" y2="359.4" stroke="#0c0a0b" stroke-width="1.5"/>
<text x="154.9" y="362.3" font-size="8" textLength="10.0" lengthAdjust="spacingAndGlyphs">80</text>
<line x1="168.0" y1="344.4" x2="171.0" y2="344.4" stroke="#0c0a0b" stroke-width="1.5"/>
<text x="149.9" y="347.2" font-size="8" textLength="15.0" lengthAdjust="spacingAndGlyphs">100</text>
<text x="197.8" y="335.6" font-size="9" textLength="19.5" lengthAdjust="spacingAndGlyphs">018Z</text>
<polyline points="179.4,350.6 179.4,349.0 188.0,349.0 188.0,350.6" fill="none" stroke="#0c0a0b" stroke-width="1" stroke-linejoin="round"/>
<text x="178.9" y="351.0" font-size="10" textLength="9.6" lengthAdjust="spacingAndGlyphs" stroke="#0c0a0b" stroke-width="0.8" stroke-linejoin="round">***</text>
<polyline points="204.2,390.3 204.2,388.7 212.5,388.7 212.5,390.3" fill="none" stroke="#0c0a0b" stroke-width="1" stroke-linejoin="round"/>
<text x="203.5" y="390.7" font-size="10" textLength="9.6" lengthAdjust="spacingAndGlyphs" stroke="#0c0a0b" stroke-width="0.8" stroke-linejoin="round">***</text>
<polyline points="228.7,402.4 228.7,400.8 237.3,400.8 237.3,402.4" fill="none" stroke="#0c0a0b" stroke-width="1" stroke-linejoin="round"/>
<text x="228.2" y="402.8" font-size="10" textLength="9.6" lengthAdjust="spacingAndGlyphs" stroke="#0c0a0b" stroke-width="0.8" stroke-linejoin="round">***</text>
<text x="171.1" y="433.8" font-size="8.4" textLength="25.0" lengthAdjust="spacingAndGlyphs">G0/G1</text>
<text x="205.3" y="433.8" font-size="8.4" textLength="4.6" lengthAdjust="spacingAndGlyphs" stroke="#0c0a0b" stroke-width="0.3">S</text>
<text x="221.8" y="433.8" font-size="8.4" textLength="22.0" lengthAdjust="spacingAndGlyphs">G2/M</text>
<line x1="183.5" y1="419.6" x2="183.5" y2="422.6" stroke="#0c0a0b" stroke-width="1.5"/>
<line x1="208.2" y1="419.6" x2="208.2" y2="422.6" stroke="#0c0a0b" stroke-width="1.5"/>
<line x1="232.7" y1="419.6" x2="232.7" y2="422.6" stroke="#0c0a0b" stroke-width="1.5"/>
<text transform="translate(139.8 380.0) rotate(-90)" x="-22.5" y="2.9" font-size="8.4" textLength="45.0" lengthAdjust="spacingAndGlyphs">Cell cycle, %</text>
<rect x="225.2" y="339.6" width="12.9" height="5.4" fill="#a60a2c"/>
<text x="241.9" y="345.0" font-size="8.5" textLength="9.8" lengthAdjust="spacingAndGlyphs" stroke="#0c0a0b" stroke-width="0.3">Scr</text>
<rect x="225.2" y="355.0" width="12.9" height="5.4" fill="#66a8de"/>
<text x="241.9" y="360.6" font-size="8.5" textLength="19.2" lengthAdjust="spacingAndGlyphs">shC3</text>
<text x="88.5" y="478.0" font-size="9" textLength="19.5" lengthAdjust="spacingAndGlyphs">018Z</text>
<text x="72.0" y="491.2" font-size="9" textLength="10.0" lengthAdjust="spacingAndGlyphs" stroke="#0c0a0b" stroke-width="0.3">EV</text>
<text x="104.5" y="491.2" font-size="9" textLength="30.5" lengthAdjust="spacingAndGlyphs">CCND3</text>
<line x1="59.6" y1="497.0" x2="94.5" y2="497.0" stroke="#000" stroke-width="1.3"/>
<line x1="102.2" y1="497.0" x2="136.6" y2="497.0" stroke="#000" stroke-width="1.3"/>
<text x="59.9" y="508.3" font-size="9" textLength="11.8" lengthAdjust="spacingAndGlyphs" stroke="#0c0a0b" stroke-width="0.3">Scr</text>
<text x="83.5" y="508.3" font-size="9" textLength="9.0" lengthAdjust="spacingAndGlyphs">81</text>
<text x="102.0" y="508.3" font-size="9" textLength="11.8" lengthAdjust="spacingAndGlyphs" stroke="#0c0a0b" stroke-width="0.3">Scr</text>
<text x="125.7" y="508.3" font-size="9" textLength="9.0" lengthAdjust="spacingAndGlyphs">81</text>
<text x="22.5" y="525.7" font-size="9" textLength="30.5" lengthAdjust="spacingAndGlyphs">CCND3</text>
<text x="31.0" y="545.3" font-size="9" textLength="22.0" lengthAdjust="spacingAndGlyphs">TUBB</text>
<clipPath id="c23"><rect x="56.3" y="513.7" width="83.2" height="16.9"/></clipPath>
<rect x="56.3" y="513.7" width="83.2" height="16.9" fill="#e8e8e8"/>
<g clip-path="url(#c23)">
<ellipse cx="68.8" cy="523.7" rx="8.0" ry="2.4" fill="#0a0a0a" opacity="0.9" filter="url(#b1)"/>
<ellipse cx="86.8" cy="523.7" rx="6.8" ry="2.1" fill="#0a0a0a" opacity="0.66" filter="url(#b1)"/>
<ellipse cx="108.0" cy="524.5" rx="9.5" ry="3.3" fill="#0a0a0a" opacity="1" filter="url(#b1)"/>
<ellipse cx="125.5" cy="522.0" rx="9.5" ry="4.5" fill="#0a0a0a" opacity="1" filter="url(#b1)"/>
</g>
<clipPath id="c24"><rect x="56.3" y="533.8" width="83.2" height="15.8"/></clipPath>
<rect x="56.3" y="533.8" width="83.2" height="15.8" fill="#e7e7e7"/>
<g clip-path="url(#c24)">
<ellipse cx="68.8" cy="540.6" rx="8.0" ry="2.4" fill="#0a0a0a" opacity="1" filter="url(#b1)"/>
<ellipse cx="87.2" cy="542.0" rx="6.2" ry="1.8" fill="#0a0a0a" opacity="1" filter="url(#b1)"/>
<ellipse cx="107.5" cy="542.5" rx="6.5" ry="1.8" fill="#0a0a0a" opacity="1" filter="url(#b1)"/>
<ellipse cx="126.0" cy="542.0" rx="7.0" ry="2.3" fill="#0a0a0a" opacity="1" filter="url(#b1)"/>
</g>
<text x="214.6" y="478.0" font-size="9" textLength="32.5" lengthAdjust="spacingAndGlyphs">NALM-6</text>
<text x="205.5" y="491.2" font-size="9" textLength="10.0" lengthAdjust="spacingAndGlyphs" stroke="#0c0a0b" stroke-width="0.3">EV</text>
<text x="236.4" y="491.2" font-size="9" textLength="31.0" lengthAdjust="spacingAndGlyphs">CCND3</text>
<line x1="192.5" y1="497.0" x2="227.0" y2="497.0" stroke="#000" stroke-width="1.3"/>
<line x1="234.5" y1="497.0" x2="269.5" y2="497.0" stroke="#000" stroke-width="1.3"/>
<text x="192.0" y="508.3" font-size="9" textLength="11.8" lengthAdjust="spacingAndGlyphs" stroke="#0c0a0b" stroke-width="0.3">Scr</text>
<text x="215.5" y="508.3" font-size="9" textLength="9.0" lengthAdjust="spacingAndGlyphs">81</text>
<text x="234.5" y="508.3" font-size="9" textLength="11.8" lengthAdjust="spacingAndGlyphs" stroke="#0c0a0b" stroke-width="0.3">Scr</text>
<text x="258.0" y="508.3" font-size="9" textLength="9.0" lengthAdjust="spacingAndGlyphs">81</text>
<text x="154.8" y="525.7" font-size="9" textLength="30.5" lengthAdjust="spacingAndGlyphs">CCND3</text>
<text x="163.3" y="545.3" font-size="9" textLength="22.0" lengthAdjust="spacingAndGlyphs">TUBB</text>
<clipPath id="c25"><rect x="191.3" y="513.7" width="82.4" height="16.9"/></clipPath>
<rect x="191.3" y="513.7" width="82.4" height="16.9" fill="#e9e9e9"/>
<g clip-path="url(#c25)">
<ellipse cx="200.4" cy="520.6" rx="6.2" ry="1.8" fill="#0a0a0a" opacity="0.55" filter="url(#b2)"/>
<ellipse cx="220.3" cy="522.0" rx="5.0" ry="1.2" fill="#0a0a0a" opacity="0.12" filter="url(#b2)"/>
<ellipse cx="241.9" cy="523.0" rx="9.5" ry="3.0" fill="#0a0a0a" opacity="0.97" filter="url(#b1)"/>
<ellipse cx="261.3" cy="522.5" rx="9.5" ry="3.7" fill="#0a0a0a" opacity="1" filter="url(#b1)"/>
</g>
<clipPath id="c26"><rect x="191.3" y="533.8" width="82.4" height="15.8"/></clipPath>
<rect x="191.3" y="533.8" width="82.4" height="15.8" fill="#e6e6e6"/>
<g clip-path="url(#c26)">
<ellipse cx="200.9" cy="540.6" rx="8.2" ry="2.5" fill="#0a0a0a" opacity="1" filter="url(#b1)"/>
<ellipse cx="218.8" cy="540.8" rx="7.8" ry="2.4" fill="#0a0a0a" opacity="1" filter="url(#b1)"/>
<ellipse cx="240.0" cy="540.8" rx="8.8" ry="2.5" fill="#0a0a0a" opacity="1" filter="url(#b1)"/>
<ellipse cx="260.4" cy="540.8" rx="8.5" ry="2.5" fill="#0a0a0a" opacity="1" filter="url(#b1)"/>
</g>
<line x1="51.9" y1="597.7" x2="51.9" y2="704.0" stroke="#0c0a0b" stroke-width="1.5"/>
<line x1="51.1" y1="703.3" x2="165.5" y2="703.3" stroke="#0c0a0b" stroke-width="1.5"/>
<line x1="48.4" y1="703.3" x2="51.9" y2="703.3" stroke="#0c0a0b" stroke-width="1.5"/>
<text x="41.5" y="706.7" font-size="9.5" textLength="4.7" lengthAdjust="spacingAndGlyphs">0</text>
<line x1="48.4" y1="669.0" x2="51.9" y2="669.0" stroke="#0c0a0b" stroke-width="1.5"/>
<text x="36.8" y="672.4" font-size="9.5" textLength="9.4" lengthAdjust="spacingAndGlyphs">50</text>
<line x1="48.4" y1="634.7" x2="51.9" y2="634.7" stroke="#0c0a0b" stroke-width="1.5"/>
<text x="32.1" y="638.1" font-size="9.5" textLength="14.1" lengthAdjust="spacingAndGlyphs">100</text>
<line x1="48.4" y1="600.4" x2="51.9" y2="600.4" stroke="#0c0a0b" stroke-width="1.5"/>
<text x="32.1" y="603.8" font-size="9.5" textLength="14.1" lengthAdjust="spacingAndGlyphs">150</text>
<line x1="71.0" y1="703.3" x2="71.0" y2="706.8" stroke="#0c0a0b" stroke-width="1.5"/>
<text x="68.6" y="717.6" font-size="9.8" textLength="4.8" lengthAdjust="spacingAndGlyphs">3</text>
<line x1="107.3" y1="703.3" x2="107.3" y2="706.8" stroke="#0c0a0b" stroke-width="1.5"/>
<text x="104.9" y="717.6" font-size="9.8" textLength="4.8" lengthAdjust="spacingAndGlyphs">6</text>
<line x1="143.6" y1="703.3" x2="143.6" y2="706.8" stroke="#0c0a0b" stroke-width="1.5"/>
<text x="141.2" y="717.6" font-size="9.8" textLength="4.8" lengthAdjust="spacingAndGlyphs">9</text>
<line x1="162.0" y1="703.3" x2="162.0" y2="706.8" stroke="#0c0a0b" stroke-width="1.5"/>
<text x="100.5" y="591.5" font-size="9" textLength="19.0" lengthAdjust="spacingAndGlyphs">018Z</text>
<text transform="translate(20.8 651.8) rotate(-90)" x="-36.0" y="3.2" font-size="9.3" textLength="72.0" lengthAdjust="spacingAndGlyphs" stroke="#0c0a0b" stroke-width="0.3">GFP+RFP+ cells, %</text>
<text x="101.0" y="733.6" font-size="10.5" textLength="18.0" lengthAdjust="spacingAndGlyphs" stroke="#0c0a0b" stroke-width="0.3">Days</text>
<polyline points="71.0,634.7 107.3,670.4 143.6,693.0" fill="none" stroke="#66a8de" stroke-width="2.1" stroke-dasharray="3.6,2.2" stroke-linejoin="round"/>
<line x1="107.3" y1="666.3" x2="107.3" y2="674.5" stroke="#66a8de" stroke-width="1.3"/>
<line x1="103.9" y1="666.3" x2="110.7" y2="666.3" stroke="#66a8de" stroke-width="1.3"/>
<line x1="103.9" y1="674.5" x2="110.7" y2="674.5" stroke="#66a8de" stroke-width="1.3"/>
<line x1="143.6" y1="689.6" x2="143.6" y2="696.4" stroke="#66a8de" stroke-width="1.3"/>
<line x1="140.2" y1="689.6" x2="147.0" y2="689.6" stroke="#66a8de" stroke-width="1.3"/>
<line x1="140.2" y1="696.4" x2="147.0" y2="696.4" stroke="#66a8de" stroke-width="1.3"/>
<polygon points="71.0,630.3 66.3,639.2 75.7,639.2" fill="#fff" stroke="#66a8de" stroke-width="1.7" stroke-linejoin="miter"/>
<polygon points="107.3,666.0 102.6,674.9 112.0,674.9" fill="#fff" stroke="#66a8de" stroke-width="1.7" stroke-linejoin="miter"/>
<polygon points="143.6,688.6 138.9,697.6 148.3,697.6" fill="#fff" stroke="#66a8de" stroke-width="1.7" stroke-linejoin="miter"/>
<polyline points="71.0,634.7 107.3,636.8 143.6,642.9" fill="none" stroke="#66a8de" stroke-width="2.1" stroke-linejoin="round"/>
<line x1="107.3" y1="633.3" x2="107.3" y2="640.2" stroke="#66a8de" stroke-width="1.3"/>
<line x1="103.9" y1="633.3" x2="110.7" y2="633.3" stroke="#66a8de" stroke-width="1.3"/>
<line x1="103.9" y1="640.2" x2="110.7" y2="640.2" stroke="#66a8de" stroke-width="1.3"/>
<line x1="143.6" y1="632.6" x2="143.6" y2="653.2" stroke="#66a8de" stroke-width="1.3"/>
<line x1="140.2" y1="632.6" x2="147.0" y2="632.6" stroke="#66a8de" stroke-width="1.3"/>
<line x1="140.2" y1="653.2" x2="147.0" y2="653.2" stroke="#66a8de" stroke-width="1.3"/>
<polygon points="71.0,629.3 65.6,639.5 76.4,639.5" fill="#66a8de"/>
<polygon points="107.3,631.3 101.9,641.6 112.7,641.6" fill="#66a8de"/>
<polygon points="143.6,637.5 138.2,647.7 149.0,647.7" fill="#66a8de"/>
<polyline points="71.0,634.7 107.3,627.8 143.6,667.6" fill="none" stroke="#a60a2c" stroke-width="2.1" stroke-dasharray="3.6,2.2" stroke-linejoin="round"/>
<line x1="107.3" y1="612.1" x2="107.3" y2="643.6" stroke="#a60a2c" stroke-width="1.3"/>
<line x1="103.9" y1="612.1" x2="110.7" y2="612.1" stroke="#a60a2c" stroke-width="1.3"/>
<line x1="103.9" y1="643.6" x2="110.7" y2="643.6" stroke="#a60a2c" stroke-width="1.3"/>
<line x1="143.6" y1="659.4" x2="143.6" y2="675.9" stroke="#a60a2c" stroke-width="1.3"/>
<line x1="140.2" y1="659.4" x2="147.0" y2="659.4" stroke="#a60a2c" stroke-width="1.3"/>
<line x1="140.2" y1="675.9" x2="147.0" y2="675.9" stroke="#a60a2c" stroke-width="1.3"/>
<rect x="66.8" y="630.5" width="8.4" height="8.4" fill="#fff" stroke="#a60a2c" stroke-width="1.7"/>
<rect x="103.1" y="623.6" width="8.4" height="8.4" fill="#fff" stroke="#a60a2c" stroke-width="1.7"/>
<rect x="139.4" y="663.4" width="8.4" height="8.4" fill="#fff" stroke="#a60a2c" stroke-width="1.7"/>
<polyline points="71.0,634.7 107.3,645.0 143.6,649.1" fill="none" stroke="#a60a2c" stroke-width="2.1" stroke-linejoin="round"/>
<line x1="107.3" y1="631.3" x2="107.3" y2="658.7" stroke="#a60a2c" stroke-width="1.3"/>
<line x1="103.9" y1="631.3" x2="110.7" y2="631.3" stroke="#a60a2c" stroke-width="1.3"/>
<line x1="103.9" y1="658.7" x2="110.7" y2="658.7" stroke="#a60a2c" stroke-width="1.3"/>
<line x1="143.6" y1="635.4" x2="143.6" y2="662.8" stroke="#a60a2c" stroke-width="1.3"/>
<line x1="140.2" y1="635.4" x2="147.0" y2="635.4" stroke="#a60a2c" stroke-width="1.3"/>
<line x1="140.2" y1="662.8" x2="147.0" y2="662.8" stroke="#a60a2c" stroke-width="1.3"/>
<rect x="66.7" y="630.4" width="8.6" height="8.6" fill="#a60a2c" stroke="#a60a2c" stroke-width="1.3"/>
<rect x="103.0" y="640.7" width="8.6" height="8.6" fill="#a60a2c" stroke="#a60a2c" stroke-width="1.3"/>
<rect x="139.3" y="644.8" width="8.6" height="8.6" fill="#a60a2c" stroke="#a60a2c" stroke-width="1.3"/>
<line x1="152.2" y1="636.0" x2="152.2" y2="664.0" stroke="#0c0a0b" stroke-width="1.2"/>
<polyline points="153.8,657.2 159.6,657.2 159.6,690.3 153.8,690.3" fill="none" stroke="#0c0a0b" stroke-width="1.2" stroke-linejoin="round"/>
<text transform="translate(163.3 673.8) rotate(-90)" x="-6.2" y="5.5" font-size="10.5" textLength="12.4" lengthAdjust="spacingAndGlyphs" stroke="#0c0a0b" stroke-width="0.8" stroke-linejoin="round">****</text>
<line x1="205.6" y1="599.4" x2="205.6" y2="705.0" stroke="#0c0a0b" stroke-width="1.5"/>
<line x1="204.8" y1="704.3" x2="312.3" y2="704.3" stroke="#0c0a0b" stroke-width="1.5"/>
<line x1="202.1" y1="704.3" x2="205.6" y2="704.3" stroke="#0c0a0b" stroke-width="1.5"/>
<text x="194.7" y="707.7" font-size="9.5" textLength="4.7" lengthAdjust="spacingAndGlyphs">0</text>
<line x1="202.1" y1="670.5" x2="205.6" y2="670.5" stroke="#0c0a0b" stroke-width="1.5"/>
<text x="190.0" y="673.9" font-size="9.5" textLength="9.4" lengthAdjust="spacingAndGlyphs">50</text>
<line x1="202.1" y1="636.7" x2="205.6" y2="636.7" stroke="#0c0a0b" stroke-width="1.5"/>
<text x="185.3" y="640.1" font-size="9.5" textLength="14.1" lengthAdjust="spacingAndGlyphs">100</text>
<line x1="202.1" y1="602.9" x2="205.6" y2="602.9" stroke="#0c0a0b" stroke-width="1.5"/>
<text x="185.3" y="606.3" font-size="9.5" textLength="14.1" lengthAdjust="spacingAndGlyphs">150</text>
<line x1="223.0" y1="704.3" x2="223.0" y2="707.8" stroke="#0c0a0b" stroke-width="1.5"/>
<text x="220.6" y="718.6" font-size="9.8" textLength="4.8" lengthAdjust="spacingAndGlyphs">3</text>
<line x1="257.7" y1="704.3" x2="257.7" y2="707.8" stroke="#0c0a0b" stroke-width="1.5"/>
<text x="255.3" y="718.6" font-size="9.8" textLength="4.8" lengthAdjust="spacingAndGlyphs">6</text>
<line x1="292.5" y1="704.3" x2="292.5" y2="707.8" stroke="#0c0a0b" stroke-width="1.5"/>
<text x="290.1" y="718.6" font-size="9.8" textLength="4.8" lengthAdjust="spacingAndGlyphs">9</text>
<line x1="309.3" y1="704.3" x2="309.3" y2="707.8" stroke="#0c0a0b" stroke-width="1.5"/>
<text x="242.3" y="593.5" font-size="9" textLength="32.0" lengthAdjust="spacingAndGlyphs">NALM-6</text>
<text transform="translate(174.3 651.8) rotate(-90)" x="-36.0" y="3.2" font-size="9.3" textLength="72.0" lengthAdjust="spacingAndGlyphs" stroke="#0c0a0b" stroke-width="0.3">GFP+RFP+ cells, %</text>
<text x="249.7" y="733.6" font-size="10.5" textLength="18.0" lengthAdjust="spacingAndGlyphs" stroke="#0c0a0b" stroke-width="0.3">Days</text>
<polyline points="223.0,636.7 257.7,639.1 292.5,684.7" fill="none" stroke="#66a8de" stroke-width="2.1" stroke-dasharray="3.6,2.2" stroke-linejoin="round"/>
<line x1="257.7" y1="636.4" x2="257.7" y2="641.8" stroke="#66a8de" stroke-width="1.3"/>
<line x1="254.3" y1="636.4" x2="261.1" y2="636.4" stroke="#66a8de" stroke-width="1.3"/>
<line x1="254.3" y1="641.8" x2="261.1" y2="641.8" stroke="#66a8de" stroke-width="1.3"/>
<line x1="292.5" y1="681.3" x2="292.5" y2="688.1" stroke="#66a8de" stroke-width="1.3"/>
<line x1="289.1" y1="681.3" x2="295.9" y2="681.3" stroke="#66a8de" stroke-width="1.3"/>
<line x1="289.1" y1="688.1" x2="295.9" y2="688.1" stroke="#66a8de" stroke-width="1.3"/>
<polygon points="223.0,632.3 218.3,641.2 227.7,641.2" fill="#fff" stroke="#66a8de" stroke-width="1.7" stroke-linejoin="miter"/>
<polygon points="257.7,634.7 253.0,643.6 262.4,643.6" fill="#fff" stroke="#66a8de" stroke-width="1.7" stroke-linejoin="miter"/>
<polygon points="292.5,680.3 287.8,689.2 297.2,689.2" fill="#fff" stroke="#66a8de" stroke-width="1.7" stroke-linejoin="miter"/>
<polyline points="223.0,636.7 257.7,622.5 292.5,630.6" fill="none" stroke="#66a8de" stroke-width="2.1" stroke-linejoin="round"/>
<line x1="257.7" y1="618.4" x2="257.7" y2="626.6" stroke="#66a8de" stroke-width="1.3"/>
<line x1="254.3" y1="618.4" x2="261.1" y2="618.4" stroke="#66a8de" stroke-width="1.3"/>
<line x1="254.3" y1="626.6" x2="261.1" y2="626.6" stroke="#66a8de" stroke-width="1.3"/>
<line x1="292.5" y1="626.6" x2="292.5" y2="634.7" stroke="#66a8de" stroke-width="1.3"/>
<line x1="289.1" y1="626.6" x2="295.9" y2="626.6" stroke="#66a8de" stroke-width="1.3"/>
<line x1="289.1" y1="634.7" x2="295.9" y2="634.7" stroke="#66a8de" stroke-width="1.3"/>
<polygon points="223.0,631.3 217.6,641.5 228.4,641.5" fill="#66a8de"/>
<polygon points="257.7,617.1 252.3,627.3 263.1,627.3" fill="#66a8de"/>
<polygon points="292.5,625.2 287.1,635.4 297.9,635.4" fill="#66a8de"/>
<polyline points="223.0,636.7 257.7,632.0 292.5,643.5" fill="none" stroke="#a60a2c" stroke-width="2.1" stroke-dasharray="3.6,2.2" stroke-linejoin="round"/>
<line x1="257.7" y1="628.6" x2="257.7" y2="635.3" stroke="#a60a2c" stroke-width="1.3"/>
<line x1="254.3" y1="628.6" x2="261.1" y2="628.6" stroke="#a60a2c" stroke-width="1.3"/>
<line x1="254.3" y1="635.3" x2="261.1" y2="635.3" stroke="#a60a2c" stroke-width="1.3"/>
<line x1="292.5" y1="639.4" x2="292.5" y2="647.5" stroke="#a60a2c" stroke-width="1.3"/>
<line x1="289.1" y1="639.4" x2="295.9" y2="639.4" stroke="#a60a2c" stroke-width="1.3"/>
<line x1="289.1" y1="647.5" x2="295.9" y2="647.5" stroke="#a60a2c" stroke-width="1.3"/>
<rect x="218.8" y="632.5" width="8.4" height="8.4" fill="#fff" stroke="#a60a2c" stroke-width="1.7"/>
<rect x="253.5" y="627.8" width="8.4" height="8.4" fill="#fff" stroke="#a60a2c" stroke-width="1.7"/>
<rect x="288.3" y="639.3" width="8.4" height="8.4" fill="#fff" stroke="#a60a2c" stroke-width="1.7"/>
<polyline points="223.0,636.7 257.7,612.4 292.5,636.0" fill="none" stroke="#a60a2c" stroke-width="2.1" stroke-linejoin="round"/>
<line x1="257.7" y1="607.0" x2="257.7" y2="617.8" stroke="#a60a2c" stroke-width="1.3"/>
<line x1="254.3" y1="607.0" x2="261.1" y2="607.0" stroke="#a60a2c" stroke-width="1.3"/>
<line x1="254.3" y1="617.8" x2="261.1" y2="617.8" stroke="#a60a2c" stroke-width="1.3"/>
<line x1="292.5" y1="630.6" x2="292.5" y2="641.4" stroke="#a60a2c" stroke-width="1.3"/>
<line x1="289.1" y1="630.6" x2="295.9" y2="630.6" stroke="#a60a2c" stroke-width="1.3"/>
<line x1="289.1" y1="641.4" x2="295.9" y2="641.4" stroke="#a60a2c" stroke-width="1.3"/>
<rect x="218.7" y="632.4" width="8.6" height="8.6" fill="#a60a2c" stroke="#a60a2c" stroke-width="1.3"/>
<rect x="253.4" y="608.1" width="8.6" height="8.6" fill="#a60a2c" stroke="#a60a2c" stroke-width="1.3"/>
<rect x="288.2" y="631.7" width="8.6" height="8.6" fill="#a60a2c" stroke="#a60a2c" stroke-width="1.3"/>
<line x1="301.3" y1="628.8" x2="301.3" y2="654.3" stroke="#0c0a0b" stroke-width="1.2"/>
<polyline points="302.3,643.8 308.6,643.8 308.6,687.0 302.3,687.0" fill="none" stroke="#0c0a0b" stroke-width="1.2" stroke-linejoin="round"/>
<text transform="translate(312.3 666.2) rotate(-90)" x="-6.2" y="5.5" font-size="10.5" textLength="12.4" lengthAdjust="spacingAndGlyphs" stroke="#0c0a0b" stroke-width="0.8" stroke-linejoin="round">****</text>
<line x1="94.8" y1="744.7" x2="126.5" y2="744.7" stroke="#66a8de" stroke-width="2.1"/>
<polygon points="111.3,739.6 106.3,749.1 116.3,749.1" fill="#66a8de"/>
<text x="130.5" y="748.2" font-size="9" textLength="26.5" lengthAdjust="spacingAndGlyphs" stroke="#0c0a0b" stroke-width="0.3">EV+Scr</text>
<line x1="94.8" y1="758.1" x2="126.5" y2="758.1" stroke="#66a8de" stroke-width="2.1" stroke-dasharray="3.6,2.2"/>
<polygon points="111.3,754.1 107.3,761.9 115.3,761.9" fill="#fff" stroke="#66a8de" stroke-width="1.6" stroke-linejoin="miter"/>
<text x="130.5" y="761.6" font-size="9" textLength="44.5" lengthAdjust="spacingAndGlyphs">EV+shF1-81</text>
<line x1="192.3" y1="744.7" x2="223.5" y2="744.7" stroke="#a60a2c" stroke-width="2.1"/>
<rect x="204.5" y="741.2" width="7.0" height="7.0" fill="#a60a2c" stroke="#a60a2c" stroke-width="1.2"/>
<text x="227.3" y="748.2" font-size="9" textLength="23.0" lengthAdjust="spacingAndGlyphs" stroke="#0c0a0b" stroke-width="0.3">C3+Scr</text>
<line x1="192.3" y1="758.1" x2="223.5" y2="758.1" stroke="#a60a2c" stroke-width="2.1" stroke-dasharray="3.6,2.2"/>
<rect x="204.8" y="754.9" width="6.4" height="6.4" fill="#fff" stroke="#a60a2c" stroke-width="1.5"/>
<line x1="206.8" y1="758.1" x2="209.2" y2="758.1" stroke="#a60a2c" stroke-width="1.6"/>
<text x="227.3" y="761.6" font-size="9" textLength="45.0" lengthAdjust="spacingAndGlyphs">C3+shF1-81</text>
<text x="423.2" y="504.9" font-size="9" textLength="19.6" lengthAdjust="spacingAndGlyphs">018Z</text>
<text x="410.0" y="518.2" font-size="9" textLength="10.0" lengthAdjust="spacingAndGlyphs" stroke="#0c0a0b" stroke-width="0.3">EV</text>
<text x="435.3" y="518.2" font-size="9" textLength="30.4" lengthAdjust="spacingAndGlyphs">CCND3</text>
<line x1="402.0" y1="524.1" x2="427.8" y2="524.1" stroke="#000" stroke-width="1.3"/>
<line x1="437.6" y1="524.1" x2="463.6" y2="524.1" stroke="#000" stroke-width="1.3"/>
<text x="399.6" y="536.0" font-size="9" textLength="12.0" lengthAdjust="spacingAndGlyphs">Scr</text>
<text x="420.6" y="536.0" font-size="9" textLength="9.0" lengthAdjust="spacingAndGlyphs">81</text>
<text x="436.4" y="536.0" font-size="9" textLength="12.0" lengthAdjust="spacingAndGlyphs">Scr</text>
<text x="456.4" y="536.0" font-size="9" textLength="9.0" lengthAdjust="spacingAndGlyphs">81</text>
<text x="341.4" y="553.7" font-size="9" textLength="54.0" lengthAdjust="spacingAndGlyphs">pS6(235/236)</text>
<text x="385.4" y="575.7" font-size="9" textLength="10.0" lengthAdjust="spacingAndGlyphs">S6</text>
<text x="375.8" y="596.2" font-size="9" textLength="19.6" lengthAdjust="spacingAndGlyphs">MYC</text>
<text x="348.0" y="619.3" font-size="9" textLength="47.4" lengthAdjust="spacingAndGlyphs">pRB1(S780)</text>
<text x="379.7" y="640.4" font-size="9" textLength="15.7" lengthAdjust="spacingAndGlyphs">RB1</text>
<text x="372.5" y="661.6" font-size="9" textLength="22.9" lengthAdjust="spacingAndGlyphs">TUBB</text>
<clipPath id="c27"><rect x="398.7" y="541.4" width="69.0" height="18.2"/></clipPath>
<rect x="398.7" y="541.4" width="69.0" height="18.2" fill="#e4e4e4"/>
<g clip-path="url(#c27)">
<rect x="404.2" y="547.6" width="11.5" height="3.2" rx="1.6" fill="#0a0a0a" opacity="0.95" filter="url(#b1)"/>
<rect x="419.9" y="548.4" width="11.0" height="3.0" rx="1.5" fill="#0a0a0a" opacity="0.72" filter="url(#b1)"/>
<rect x="436.0" y="545.6" width="12.0" height="6.0" rx="3.0" fill="#0a0a0a" opacity="1" filter="url(#b1)"/>
<ellipse cx="456.5" cy="550.4" rx="4.0" ry="1.1" fill="#0a0a0a" opacity="0.16" filter="url(#b2)"/>
</g>
<clipPath id="c28"><rect x="398.7" y="564.4" width="69.0" height="18.1"/></clipPath>
<rect x="398.7" y="564.4" width="69.0" height="18.1" fill="#d8d8d8"/>
<g clip-path="url(#c28)">
<rect x="402.4" y="571.2" width="12.5" height="2.4" rx="1.2" fill="#0a0a0a" opacity="0.62" filter="url(#b1)"/>
<rect x="418.8" y="571.2" width="13.0" height="2.4" rx="1.2" fill="#0a0a0a" opacity="0.66" filter="url(#b1)"/>
<rect x="434.8" y="570.5" width="13.5" height="2.8" rx="1.4" fill="#0a0a0a" opacity="0.78" filter="url(#b1)"/>
<rect x="451.5" y="571.0" width="13.0" height="2.6" rx="1.3" fill="#0a0a0a" opacity="0.72" filter="url(#b1)"/>
</g>
<clipPath id="c29"><rect x="398.7" y="587.2" width="69.0" height="17.8"/></clipPath>
<rect x="398.7" y="587.2" width="69.0" height="17.8" fill="#dadada"/>
<g clip-path="url(#c29)">
<ellipse cx="405.5" cy="596.4" rx="3.0" ry="2.1" fill="#0a0a0a" opacity="0.62" filter="url(#b2)"/>
<ellipse cx="411.0" cy="596.6" rx="3.0" ry="2.0" fill="#0a0a0a" opacity="0.55" filter="url(#b2)"/>
<ellipse cx="423.0" cy="597.6" rx="3.0" ry="1.3" fill="#0a0a0a" opacity="0.3" filter="url(#b2)"/>
<ellipse cx="429.0" cy="596.8" rx="2.5" ry="1.7" fill="#0a0a0a" opacity="0.45" filter="url(#b2)"/>
<rect x="434.2" y="594.3" width="14.5" height="4.8" rx="2.4" fill="#0a0a0a" opacity="0.85" filter="url(#b2)"/>
<rect x="451.2" y="595.6" width="12.5" height="4.0" rx="2.0" fill="#0a0a0a" opacity="0.65" filter="url(#b2)"/>
</g>
<clipPath id="c30"><rect x="398.7" y="609.4" width="69.0" height="17.8"/></clipPath>
<rect x="398.7" y="609.4" width="69.0" height="17.8" fill="#d9d9d9"/>
<g clip-path="url(#c30)">
<rect x="404.1" y="617.1" width="11.0" height="3.0" rx="1.5" fill="#0a0a0a" opacity="0.7" filter="url(#b1)"/>
<ellipse cx="424.5" cy="618.6" rx="4.5" ry="1.2" fill="#0a0a0a" opacity="0.22" filter="url(#b2)"/>
<rect x="433.6" y="616.8" width="15.4" height="3.6" rx="1.8" fill="#0a0a0a" opacity="0.93" filter="url(#b1)"/>
<rect x="452.5" y="616.8" width="12.0" height="3.4" rx="1.7" fill="#0a0a0a" opacity="0.93" filter="url(#b1)"/>
</g>
<clipPath id="c31"><rect x="398.7" y="631.5" width="69.0" height="15.7"/></clipPath>
<rect x="398.7" y="631.5" width="69.0" height="15.7" fill="#d5d5d5"/>
<g clip-path="url(#c31)">
<rect x="401.6" y="635.8" width="14.0" height="5.2" rx="2.6" fill="#0a0a0a" opacity="1" filter="url(#b1)"/>
<rect x="417.8" y="636.8" width="11.5" height="4.0" rx="2.0" fill="#0a0a0a" opacity="1" filter="url(#b1)"/>
<rect x="431.2" y="635.5" width="18.0" height="5.6" rx="2.8" fill="#0a0a0a" opacity="1" filter="url(#b1)"/>
<rect x="450.6" y="635.7" width="14.0" height="5.0" rx="2.5" fill="#0a0a0a" opacity="1" filter="url(#b1)"/>
<ellipse cx="416.5" cy="638.6" rx="3.0" ry="1.2" fill="#0a0a0a" opacity="0.8" filter="url(#b1)"/>
<ellipse cx="431.0" cy="638.6" rx="2.5" ry="1.2" fill="#0a0a0a" opacity="0.8" filter="url(#b1)"/>
<ellipse cx="450.0" cy="638.4" rx="2.0" ry="1.3" fill="#0a0a0a" opacity="0.8" filter="url(#b1)"/>
</g>
<clipPath id="c32"><rect x="398.7" y="651.2" width="69.0" height="17.2"/></clipPath>
<rect x="398.7" y="651.2" width="69.0" height="17.2" fill="#e5e5e5"/>
<g clip-path="url(#c32)">
<rect x="401.6" y="655.2" width="14.0" height="4.6" rx="2.3" fill="#0a0a0a" opacity="1" filter="url(#b1)"/>
<rect x="419.8" y="656.0" width="12.5" height="4.0" rx="2.0" fill="#0a0a0a" opacity="1" filter="url(#b1)"/>
<rect x="436.6" y="657.2" width="12.5" height="3.6" rx="1.8" fill="#0a0a0a" opacity="1" filter="url(#b1)"/>
<rect x="453.2" y="656.5" width="13.0" height="4.6" rx="2.3" fill="#0a0a0a" opacity="1" filter="url(#b1)"/>
</g>
<rect x="0" y="0" width="520" height="1.5" fill="#000"/><rect x="0" y="0" width="1.4" height="771" fill="#000"/><rect x="518.4" y="0" width="1.6" height="771" fill="#000"/><rect x="0" y="769.3" width="520" height="1.7" fill="#000"/>
</svg>
</body></html>
